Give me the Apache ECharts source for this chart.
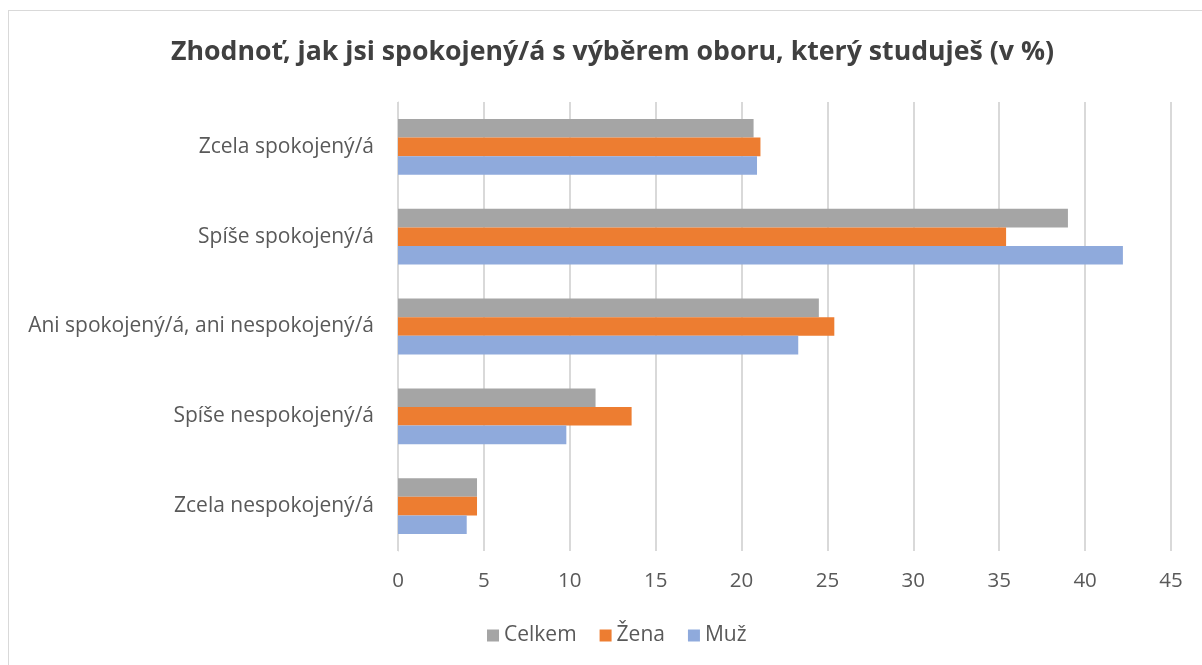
<!DOCTYPE html>
<html>
<head>
<meta charset="utf-8">
<script src="https://cdn.jsdelivr.net/npm/echarts@6/dist/echarts.min.js"></script>
<style>
html,body{margin:0;padding:0;background:#fff;}
#frame{position:absolute;left:8px;top:10px;width:1200px;height:660px;border:1px solid #d9d9d9;box-sizing:border-box;}
#chart{position:absolute;left:0;top:0;width:1202px;height:665px;}
</style>
</head>
<body>
<div id="frame"></div>
<div id="chart"></div>
<script>
const titleText = 'Zhodnoť, jak jsi spokojený/á s výběrem oboru, který studuješ (v %)';
const categories = ['Zcela spokojený/á', 'Spíše spokojený/á', 'Ani spokojený/á, ani nespokojený/á', 'Spíše nespokojený/á', 'Zcela nespokojený/á'];
const seriesNames = ['Celkem', 'Žena', 'Muž'];
const celkem = [20.7, 39.0, 24.5, 11.5, 4.6];
const zena = [21.1, 35.4, 25.4, 13.6, 4.6];
const muz = [20.9, 42.2, 23.3, 9.8, 4.0];
const colors = ['#A5A5A5', '#ED7D31', '#8FAADC'];
const xTicks = {min: 0, max: 45, interval: 5};

const chart = echarts.init(document.getElementById('chart'), null, {renderer: 'canvas'});
const font = '"Open Sans", sans-serif';
chart.setOption({
  backgroundColor: 'transparent',
  animation: false,
  color: colors,
  textStyle: {fontFamily: font},
  title: {
    text: titleText,
    left: 166,
    top: 34,
    textStyle: {fontFamily: font, fontSize: 26.7, fontWeight: 'bold', color: '#404040'}
  },
  legend: {
    bottom: 14,
    left: 482,
    itemWidth: 12,
    itemHeight: 12,
    itemGap: 23,
    icon: 'rect',
    textStyle: {fontFamily: font, fontSize: 21, color: '#595959'},
    data: seriesNames
  },
  grid: {left: 398, right: 31, top: 102, bottom: 114, containLabel: false},
  xAxis: {
    type: 'value',
    min: xTicks.min, max: xTicks.max, interval: xTicks.interval,
    axisLine: {show: false},
    axisTick: {show: false},
    axisLabel: {fontFamily: font, fontSize: 20.5, color: '#595959', margin: 20},
    splitLine: {lineStyle: {color: '#d9d9d9', width: 2}}
  },
  yAxis: {
    type: 'category',
    inverse: true,
    data: categories,
    axisLine: {show: true, lineStyle: {color: '#d9d9d9', width: 1}},
    axisTick: {show: false},
    axisLabel: {fontFamily: font, fontSize: 21, color: '#595959', margin: 24}
  },
  series: [
    {name: seriesNames[0], type: 'bar', data: celkem, barWidth: 18.6, barGap: '0%', barCategoryGap: '38%'},
    {name: seriesNames[1], type: 'bar', data: zena, barWidth: 18.6, barGap: '0%'},
    {name: seriesNames[2], type: 'bar', data: muz, barWidth: 18.6, barGap: '0%'}
  ]
});
</script>
</body>
</html>
